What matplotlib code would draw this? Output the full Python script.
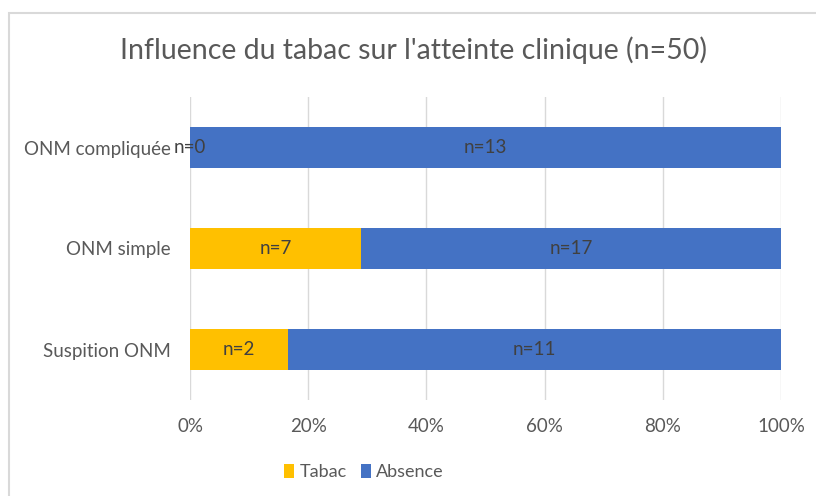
import numpy as np
import matplotlib.pyplot as plt
from matplotlib.patches import Rectangle

categories = ['Suspition ONM', 'ONM simple', 'ONM compliquée']
tabac = [2, 7, 0]        # effectifs (étiquettes)
absence = [11, 17, 13]
tabac_pct = [16.6, 29.0, 0.0]   # part (%)
ticks = [0, 20, 40, 60, 80, 100]

plt.rcParams['font.family'] = ['Lato', 'DejaVu Sans']

p_tabac = np.array(tabac_pct)
p_abs = 100 - p_tabac

fig = plt.figure(figsize=(8.16, 4.96), dpi=100)
ax = fig.add_axes([190 / 816, 1 - 400 / 496, 591 / 816, 303 / 496])

# cadre du graphique
fig.patches.append(Rectangle((9 / 816, -0.1), 1.2, 1 - 13 / 496 + 0.1,
                             transform=fig.transFigure, fill=False,
                             edgecolor='#d9d9d9', linewidth=1.5))

y = np.arange(len(categories))
b1 = ax.barh(y, p_tabac, height=0.4, color='#FFC000', label='Tabac', zorder=3)
b2 = ax.barh(y, p_abs, left=p_tabac, height=0.4, color='#4472C4', label='Absence', zorder=3)

for i in range(len(categories)):
    ax.text(p_tabac[i] / 2, y[i], f'n={tabac[i]}', ha='center', va='center',
            fontsize=13.5, color='#404040', zorder=4)
    ax.text(p_tabac[i] + p_abs[i] / 2, y[i], f'n={absence[i]}', ha='center', va='center',
            fontsize=13.5, color='#404040', zorder=4)

ax.set_xlim(0, 100)
ax.set_ylim(-0.5, 2.5)
ax.set_xticks(ticks)
ax.set_xticklabels([f'{t}%' for t in ticks], fontsize=13.5, color='#595959')
ax.set_yticks(y)
ax.set_yticklabels(categories, fontsize=13.5, color='#595959')
ax.tick_params(axis='both', length=0)
ax.tick_params(axis='x', pad=13)
ax.tick_params(axis='y', pad=14)
ax.grid(axis='x', color='#d9d9d9', linewidth=1, zorder=0)
for s in ax.spines.values():
    s.set_visible(False)
ax.axvline(0, color='#d9d9d9', linewidth=1.2, zorder=1)

fig.text(414 / 816, 1 - 50 / 496, "Influence du tabac sur l'atteinte clinique (n=50)",
         ha='center', va='center', fontsize=20.5, color='#595959')

fig.legend(handles=[b1, b2], loc='center', bbox_to_anchor=(364 / 816, 1 - 472 / 496),
           ncol=2, frameon=False, fontsize=13, labelcolor='#595959',
           handlelength=0.55, handleheight=0.8, handletextpad=0.3, columnspacing=0.8)

fig.savefig('out.png', dpi=100)
